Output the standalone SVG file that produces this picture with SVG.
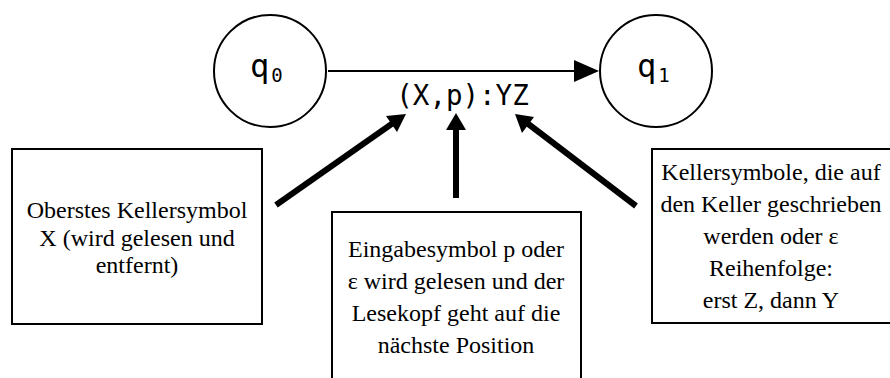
<svg xmlns="http://www.w3.org/2000/svg" width="890" height="378" viewBox="0 0 890 378">
  <style>
    .state { fill: #fff; stroke: #000; stroke-width: 2; }
    .slabel { font-family: "DejaVu Sans Mono", monospace; font-size: 32px; fill: #000; }
    .sub { font-size: 19px; }
    .elabel { font-family: "DejaVu Sans Mono", monospace; font-size: 27.5px; fill: #000; text-anchor: middle; }
    .note { fill: #fff; stroke: #000; stroke-width: 2; }
    .ntext { font-family: "Liberation Serif", serif; font-size: 24px; fill: #000; text-anchor: middle; }
    .edge { stroke: #000; stroke-width: 2; fill: none; }
    .pointer { stroke: #000; stroke-width: 6; fill: none; }
  </style>

  <g id="connectors">
    <line class="edge" x1="328" y1="71" x2="576" y2="71"/>
    <path d="M574,60 L599,71 L574,82 Z" fill="#000"/>
    <line class="pointer" x1="276" y1="205" x2="393" y2="123"/>
    <path d="M406,114 L386,116 L397,132 Z" fill="#000"/>
    <line class="pointer" x1="456" y1="198" x2="456" y2="128"/>
    <path d="M456,113 L446,130 L466,130 Z" fill="#000"/>
    <line class="pointer" x1="636" y1="206" x2="527" y2="123"/>
    <path d="M515,114 L522,133 L534,117 Z" fill="#000"/>
  </g>

  <g id="q0">
    <circle class="state" cx="270" cy="71" r="56"/>
    <text class="slabel" x="250" y="77">q<tspan class="sub" dx="2" dy="5">0</tspan></text>
  </g>
  <g id="q1">
    <circle class="state" cx="656" cy="71" r="56"/>
    <text class="slabel" x="637" y="77">q<tspan class="sub" dx="2" dy="5">1</tspan></text>
  </g>
  <g id="edge-label">
    <text class="elabel" x="462.5" y="105">(X,p):YZ</text>
  </g>

  <g id="note-top-symbol">
    <rect class="note" x="12" y="149" width="250" height="175"/>
    <text class="ntext" x="137" y="218">Oberstes Kellersymbol</text>
    <text class="ntext" x="137" y="246">X (wird gelesen und</text>
    <text class="ntext" x="137" y="273">entfernt)</text>
  </g>
  <g id="note-input">
    <rect class="note" x="332" y="212" width="249" height="180"/>
    <text class="ntext" x="456" y="257">Eingabesymbol p oder</text>
    <text class="ntext" x="456" y="289">ε wird gelesen und der</text>
    <text class="ntext" x="456" y="321">Lesekopf geht auf die</text>
    <text class="ntext" x="456" y="353">nächste Position</text>
  </g>
  <g id="note-push">
    <rect class="note" x="652" y="149" width="250" height="174"/>
    <text class="ntext" x="771" y="180">Kellersymbole, die auf</text>
    <text class="ntext" x="771" y="212">den Keller geschrieben</text>
    <text class="ntext" x="771" y="244">werden oder ε</text>
    <text class="ntext" x="771" y="276">Reihenfolge:</text>
    <text class="ntext" x="771" y="308">erst Z, dann Y</text>
  </g>
</svg>
